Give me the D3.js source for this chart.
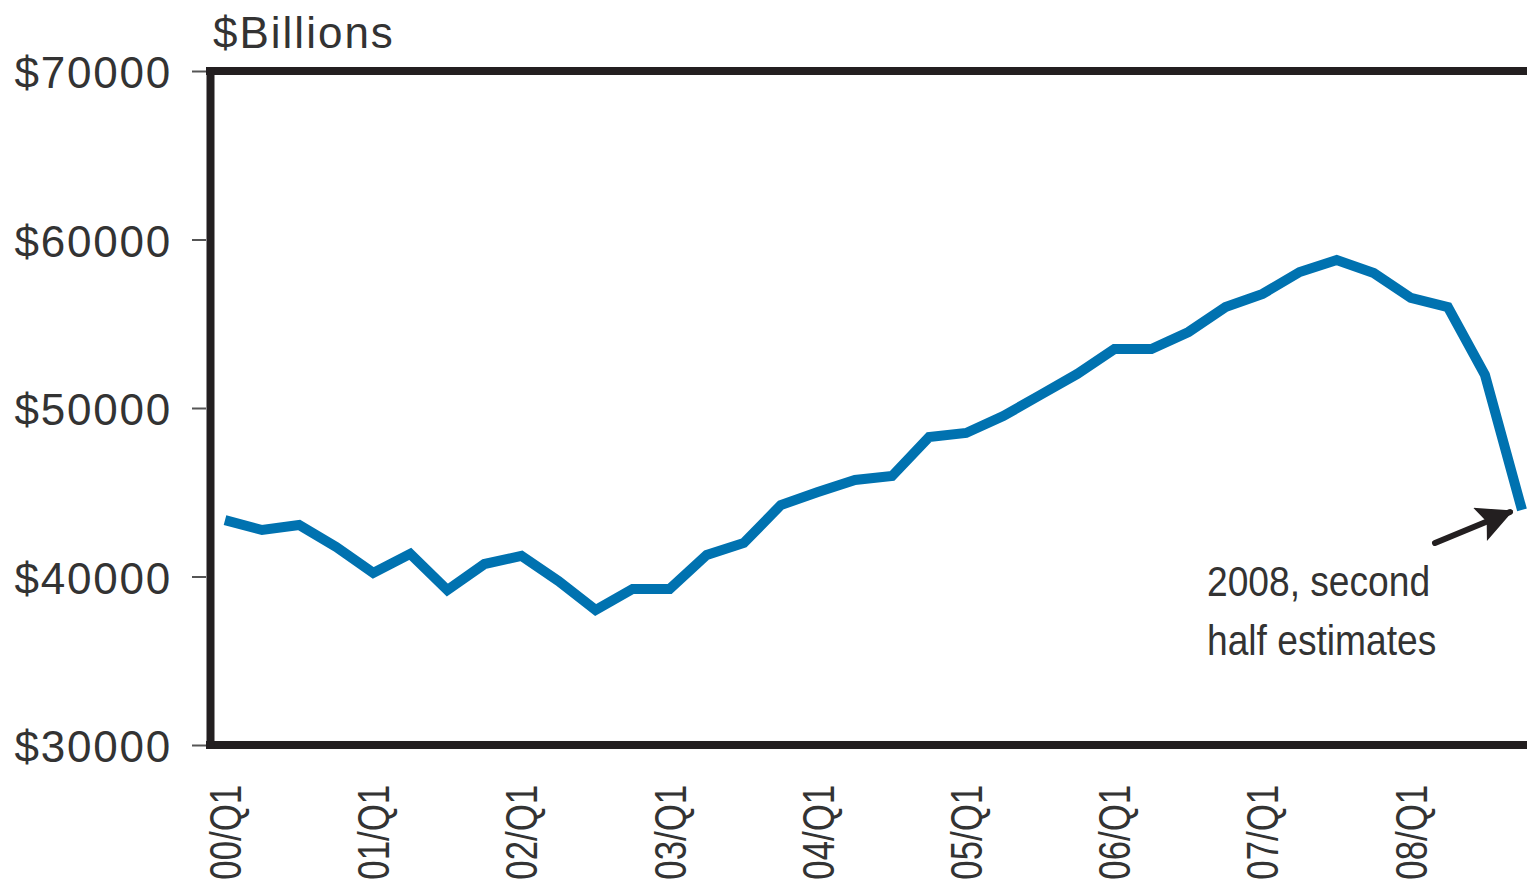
<!DOCTYPE html>
<meta charset="utf-8">
<html>
<head>
  <script src="https://d3js.org/d3.v7.min.js"></script>
  <style>
    body { margin: 0; background: #fff; overflow: hidden; }
    text { font-family: "Liberation Sans", Arial, sans-serif; }
  </style>
</head>
<body>
  <svg></svg>
  <script type="text/javascript">
    // quarterly values, $Billions, 2000 Q1 .. 2008 Q4
    var quarters = ['00/Q1','00/Q2','00/Q3','00/Q4','01/Q1','01/Q2','01/Q3','01/Q4',
      '02/Q1','02/Q2','02/Q3','02/Q4','03/Q1','03/Q2','03/Q3','03/Q4',
      '04/Q1','04/Q2','04/Q3','04/Q4','05/Q1','05/Q2','05/Q3','05/Q4',
      '06/Q1','06/Q2','06/Q3','06/Q4','07/Q1','07/Q2','07/Q3','07/Q4',
      '08/Q1','08/Q2','08/Q3','08/Q4']
    var values = [43350, 42760, 43060, 41750, 40210, 41340, 39200, 40740,
      41220, 39730, 38010, 39260, 39260, 41280, 41990, 44240,
      45010, 45730, 45960, 48280, 48520, 49520, 50770, 52020,
      53500, 53500, 54510, 55990, 56770, 58070, 58780, 58010,
      56530, 55990, 51960, 43950]
    var yTicks = [30000, 40000, 50000, 60000, 70000]
    var xLabels = quarters.filter(function(q) { return q.slice(3) === 'Q1' })
    var noteLines = ['2008, second', 'half estimates']

    var width = 1527
    var height = 888
    const svg = d3.select('svg')
      .attr('width', width)
      .attr('height', height)

    var x = d3.scalePoint().domain(quarters).range([225, 1522])
    var y = d3.scaleLinear().domain([30000, 70000]).range([745, 71])

    // y axis ticks + labels
    var yAxis = svg.append('g')
      .attr('transform', 'translate(206,0)')
      .call(d3.axisLeft(y).tickValues(yTicks).tickSize(14).tickPadding(20)
        .tickFormat(function(d) { return '$' + d }))
    yAxis.select('.domain').remove()
    yAxis.selectAll('.tick line').attr('stroke', '#555').attr('stroke-width', 2)
    yAxis.selectAll('.tick text')
      .attr('font-family', null)
      .attr('font-size', 44)
      .attr('letter-spacing', 1.8)
      .attr('fill', '#333')
      .attr('dy', '0.38em')

    // frame (right side runs off the picture)
    var frame = svg.append('g').attr('stroke', '#231f20').attr('stroke-width', 8)
    frame.append('line').attr('x1', 206).attr('x2', 1540).attr('y1', y(70000)).attr('y2', y(70000))
    frame.append('line').attr('x1', 206).attr('x2', 1540).attr('y1', y(30000)).attr('y2', y(30000))
    frame.append('line').attr('x1', 210.5).attr('x2', 210.5).attr('y1', y(70000) - 4).attr('y2', y(30000) + 4)

    svg.append('text')
      .attr('x', 213).attr('y', 48)
      .attr('font-size', 44)
      .attr('letter-spacing', 2)
      .attr('fill', '#333')
      .text('$Billions')

    // x labels, rotated and condensed
    svg.append('g').selectAll('text')
      .data(xLabels)
      .enter().append('text')
      .attr('transform', function(d) { return 'translate(' + x(d) + ',785) rotate(-90) scale(0.79,1)' })
      .attr('text-anchor', 'end')
      .attr('dy', '0.36em')
      .attr('font-size', 44)
      .attr('fill', '#333')
      .text(function(d) { return d })

    // the line
    var line = d3.line()
      .x(function(d, i) { return x(quarters[i]) })
      .y(function(d) { return y(d) })
    svg.append('path')
      .datum(values)
      .attr('d', line)
      .attr('fill', 'none')
      .attr('stroke', '#0072b0')
      .attr('stroke-width', 10)
      .attr('stroke-linejoin', 'miter')

    // annotation arrow + note
    var defs = svg.append('defs')
    defs.append('marker')
      .attr('id', 'head')
      .attr('viewBox', '0 0 10 10')
      .attr('refX', 9).attr('refY', 5)
      .attr('markerWidth', 6.5).attr('markerHeight', 6)
      .attr('markerUnits', 'strokeWidth')
      .attr('orient', 'auto')
      .append('path').attr('d', 'M0,0 L10,5 L0,10 L2,5 Z').attr('fill', '#231f20')
    svg.append('line')
      .attr('x1', 1435).attr('y1', 543).attr('x2', 1510).attr('y2', 512)
      .attr('stroke', '#231f20').attr('stroke-width', 6)
      .attr('stroke-linecap', 'round')
      .attr('marker-end', 'url(#head)')

    svg.append('g').selectAll('text')
      .data(noteLines)
      .enter().append('text')
      .attr('transform', function(d, i) { return 'translate(1207,' + (596 + i * 59) + ') scale(0.885,1)' })
      .attr('font-size', 42)
      .attr('fill', '#333')
      .text(function(d) { return d })
  </script>
</body>
</html>
